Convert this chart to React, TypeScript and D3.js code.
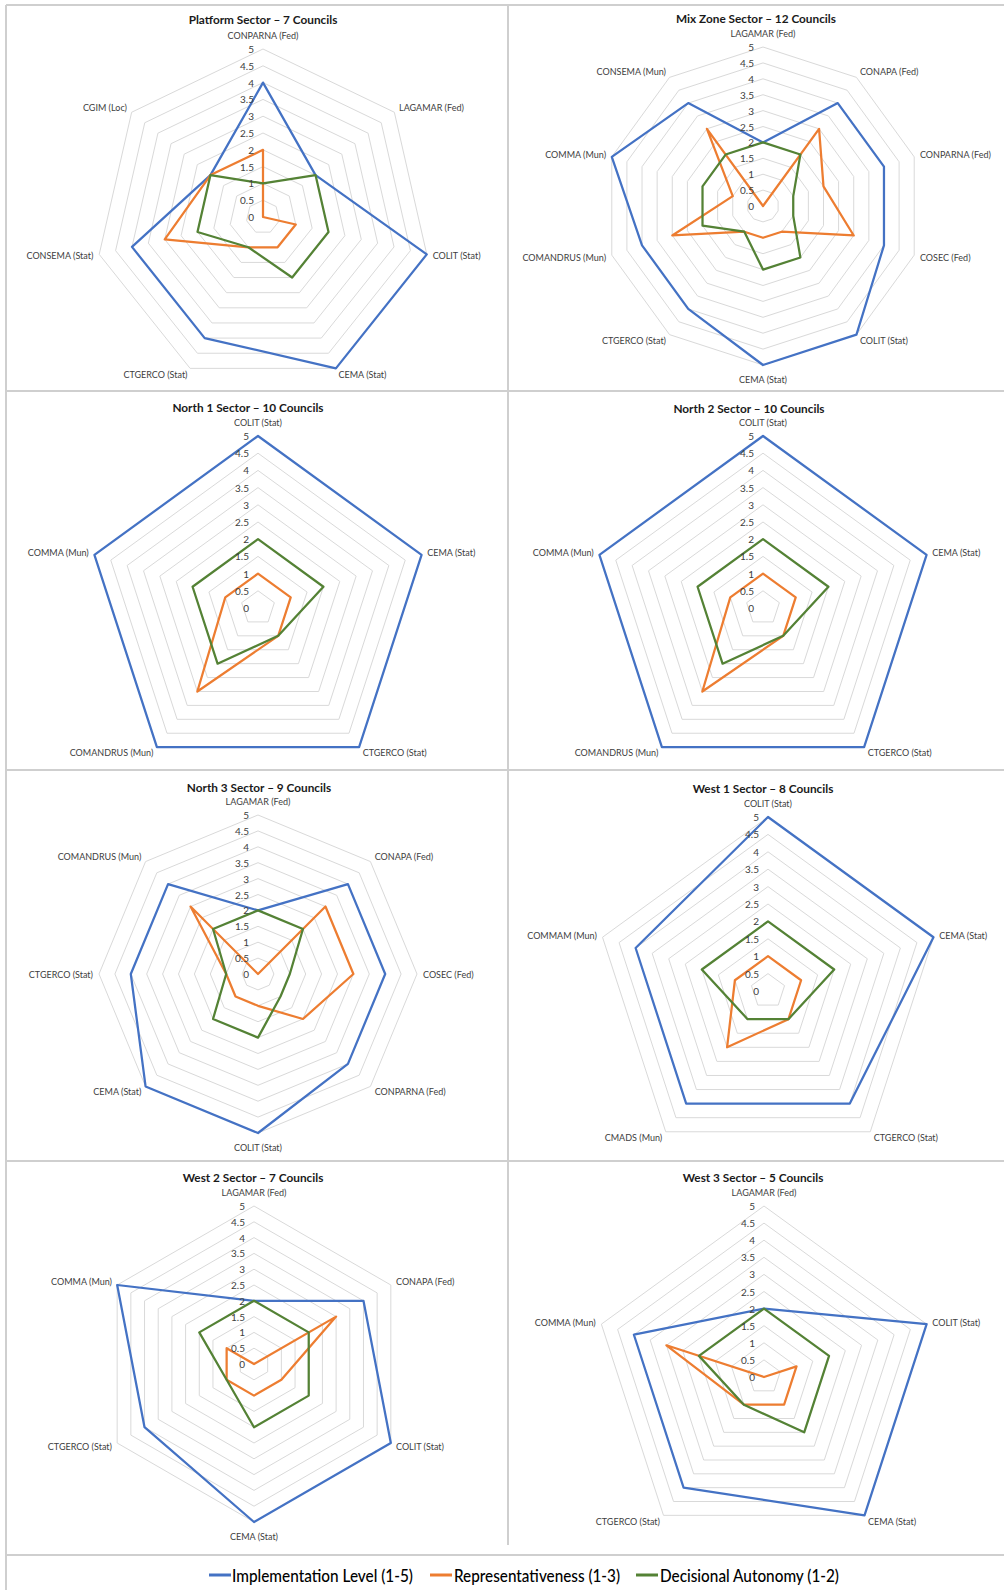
import React from "react";
import * as d3 from "d3";

// ---------- DATA ----------
const seriesNames = ["Implementation Level (1-5)", "Representativeness (1-3)", "Decisional Autonomy (1-2)"];
const seriesColors = ["#4472C4", "#ED7D31", "#548235"];
const tickValues = [0, 0.5, 1, 1.5, 2, 2.5, 3, 3.5, 4, 4.5, 5];

const platformTitle = "Platform Sector – 7 Councils";
const platformAxes = ["CONPARNA (Fed)", "LAGAMAR (Fed)", "COLIT (Stat)", "CEMA (Stat)", "CTGERCO (Stat)", "CONSEMA (Stat)", "CGIM (Loc)"];
const platformImpl = [4, 2, 5, 5, 4, 4, 2];
const platformRepr = [2, 0, 1, 1, 1, 3, 2];
const platformAuto = [1, 2, 2, 2, 1, 2, 2];

const mixTitle = "Mix Zone Sector – 12 Councils";
const mixAxes = ["LAGAMAR (Fed)", "CONAPA (Fed)", "CONPARNA (Fed)", "COSEC (Fed)", "COLIT (Stat)", "CEMA (Stat)", "CTGERCO (Stat)", "COMANDRUS (Mun)", "COMMA (Mun)", "CONSEMA (Mun)"];
const mixImpl = [2, 4, 4, 4, 5, 5, 4, 4, 5, 4];
const mixRepr = [0, 3, 2, 3, 1, 1, 1, 3, 1, 3];
const mixAuto = [2, 2, 1, 1, 2, 2, 1, 2, 2, 2];

const north1Title = "North 1 Sector – 10 Councils";
const north1Axes = ["COLIT (Stat)", "CEMA (Stat)", "CTGERCO (Stat)", "COMANDRUS (Mun)", "COMMA (Mun)"];
const north1Impl = [5, 5, 5, 5, 5];
const north1Repr = [1, 1, 1, 3, 1];
const north1Auto = [2, 2, 1, 2, 2];

const north2Title = "North 2 Sector – 10 Councils";
const north2Axes = ["COLIT (Stat)", "CEMA (Stat)", "CTGERCO (Stat)", "COMANDRUS (Mun)", "COMMA (Mun)"];
const north2Impl = [5, 5, 5, 5, 5];
const north2Repr = [1, 1, 1, 3, 1];
const north2Auto = [2, 2, 1, 2, 2];

const north3Title = "North 3 Sector – 9 Councils";
const north3Axes = ["LAGAMAR (Fed)", "CONAPA (Fed)", "COSEC (Fed)", "CONPARNA (Fed)", "COLIT (Stat)", "CEMA (Stat)", "CTGERCO (Stat)", "COMANDRUS (Mun)"];
const north3Impl = [2, 4, 4, 4, 5, 5, 4, 4];
const north3Repr = [0, 3, 3, 2, 1, 1, 1, 3];
const north3Auto = [2, 2, 1, 1, 2, 2, 1, 2];

const west1Title = "West 1 Sector – 8 Councils";
const west1Axes = ["COLIT (Stat)", "CEMA (Stat)", "CTGERCO (Stat)", "CMADS (Mun)", "COMMAM (Mun)"];
const west1Impl = [5, 5, 4, 4, 4];
const west1Repr = [1, 1, 1, 2, 1];
const west1Auto = [2, 2, 1, 1, 2];

const west2Title = "West 2 Sector – 7 Councils";
const west2Axes = ["LAGAMAR (Fed)", "CONAPA (Fed)", "COLIT (Stat)", "CEMA (Stat)", "CTGERCO (Stat)", "COMMA (Mun)"];
const west2Impl = [2, 4, 5, 5, 4, 5];
const west2Repr = [0, 3, 1, 1, 1, 1];
const west2Auto = [2, 2, 2, 2, 1, 2];

const west3Title = "West 3 Sector – 5 Councils";
const west3Axes = ["LAGAMAR (Fed)", "COLIT (Stat)", "CEMA (Stat)", "CTGERCO (Stat)", "COMMA (Mun)"];
const west3Impl = [2, 5, 5, 4, 4];
const west3Repr = [0, 1, 1, 1, 3];
const west3Auto = [2, 2, 2, 1, 2];

// ---------- LAYOUT ----------
const layouts = [
  { cx: 263, cy: 217, R: 168, tx: 263, ty: 19 },
  { cx: 763, cy: 206, R: 159, tx: 756, ty: 18 },
  { cx: 258, cy: 608, R: 172, tx: 248, ty: 407 },
  { cx: 763, cy: 608, R: 172, tx: 749, ty: 408 },
  { cx: 258, cy: 974, R: 159, tx: 259, ty: 787 },
  { cx: 768, cy: 991, R: 174, tx: 763, ty: 788 },
  { cx: 254, cy: 1364, R: 158, tx: 253, ty: 1177 },
  { cx: 764, cy: 1377, R: 171, tx: 753, ty: 1177 },
];

const panelData = [
  { title: platformTitle, axes: platformAxes, series: [platformImpl, platformRepr, platformAuto] },
  { title: mixTitle, axes: mixAxes, series: [mixImpl, mixRepr, mixAuto] },
  { title: north1Title, axes: north1Axes, series: [north1Impl, north1Repr, north1Auto] },
  { title: north2Title, axes: north2Axes, series: [north2Impl, north2Repr, north2Auto] },
  { title: north3Title, axes: north3Axes, series: [north3Impl, north3Repr, north3Auto] },
  { title: west1Title, axes: west1Axes, series: [west1Impl, west1Repr, west1Auto] },
  { title: west2Title, axes: west2Axes, series: [west2Impl, west2Repr, west2Auto] },
  { title: west3Title, axes: west3Axes, series: [west3Impl, west3Repr, west3Auto] },
];

const FONT = "Lato, 'Open Sans', sans-serif";

function Radar({ data, layout }) {
  const { cx, cy, R, tx, ty } = layout;
  const n = data.axes.length;
  const r = d3.scaleLinear().domain([0, 5]).range([0, R]);
  const angle = (i) => (i * 2 * Math.PI) / n;
  const line = d3
    .lineRadial<number>()
    .angle((_, i) => angle(i))
    .radius((v) => r(v))
    .curve(d3.curveLinearClosed);

  return (
    <g>
      <text x={tx} y={ty} textAnchor="middle" dominantBaseline="central" fontFamily={FONT} fontWeight="bold" fontSize={11.8} fill="#1a1a1a">
        {data.title}
      </text>
      <g transform={`translate(${cx},${cy})`}>
        {tickValues.filter((t) => t > 0).map((t) => (
          <path key={t} d={line(new Array(n).fill(t)) || ""} fill="none" stroke="#d9d9d9" strokeWidth={1} />
        ))}
        {data.series.map((s, si) => (
          <path key={si} d={line(s) || ""} fill="none" stroke={seriesColors[si]} strokeWidth={2.25} strokeLinejoin="round" />
        ))}
        {tickValues.map((t) => (
          <text key={t} x={-9} y={-r(t)} textAnchor="end" dominantBaseline="central" fontFamily={FONT} fontSize={10} fill="#404040">
            {String(t)}
          </text>
        ))}
        {data.axes.map((a, i) => {
          const ang = angle(i);
          const s = Math.sin(ang);
          const c = Math.cos(ang);
          const px = r(5) * s;
          const py = -r(5) * c;
          const anchor = s > 0.05 ? "start" : s < -0.05 ? "end" : "middle";
          const x = px + s * 6;
          const y = py - c * (Math.abs(c) > 0.95 ? 14 : 7);
          return (
            <text key={a} x={x} y={y} textAnchor={anchor} dominantBaseline="central" fontFamily={FONT} fontSize={9} fill="#404040">
              {a}
            </text>
          );
        })}
      </g>
    </g>
  );
}

const legendLayout = [
  { lx: 209, tx: 232, w: 181 },
  { lx: 430, tx: 454, w: 166 },
  { lx: 636, tx: 660, w: 179 },
];

export default function App() {
  const frame = "#cfcfcf";
  return (
    <svg width={1004} height={1590} style={{ position: "absolute", left: 0, top: 0, background: "#fff" }}>
      <rect x={0} y={0} width={1004} height={1590} fill="#fff" />
      {[5, 391, 770, 1161, 1555].map((y) => (
        <line key={y} x1={6} x2={1004} y1={y} y2={y} stroke={frame} strokeWidth={2} />
      ))}
      <line x1={6} x2={6} y1={5} y2={1590} stroke={frame} strokeWidth={2} />
      <line x1={508} x2={508} y1={5} y2={1545} stroke={frame} strokeWidth={2} />
      {panelData.map((p, i) => (
        <Radar key={i} data={p} layout={layouts[i]} />
      ))}
      {seriesNames.map((name, i) => (
        <g key={name}>
          <line x1={legendLayout[i].lx} x2={legendLayout[i].lx + 22} y1={1575} y2={1575} stroke={seriesColors[i]} strokeWidth={3} />
          <text x={legendLayout[i].tx} y={1575} dominantBaseline="central" fontFamily={FONT} fontWeight={500} fontSize={18} fill="#000" textLength={legendLayout[i].w} lengthAdjust="spacingAndGlyphs">
            {name}
          </text>
        </g>
      ))}
    </svg>
  );
}
